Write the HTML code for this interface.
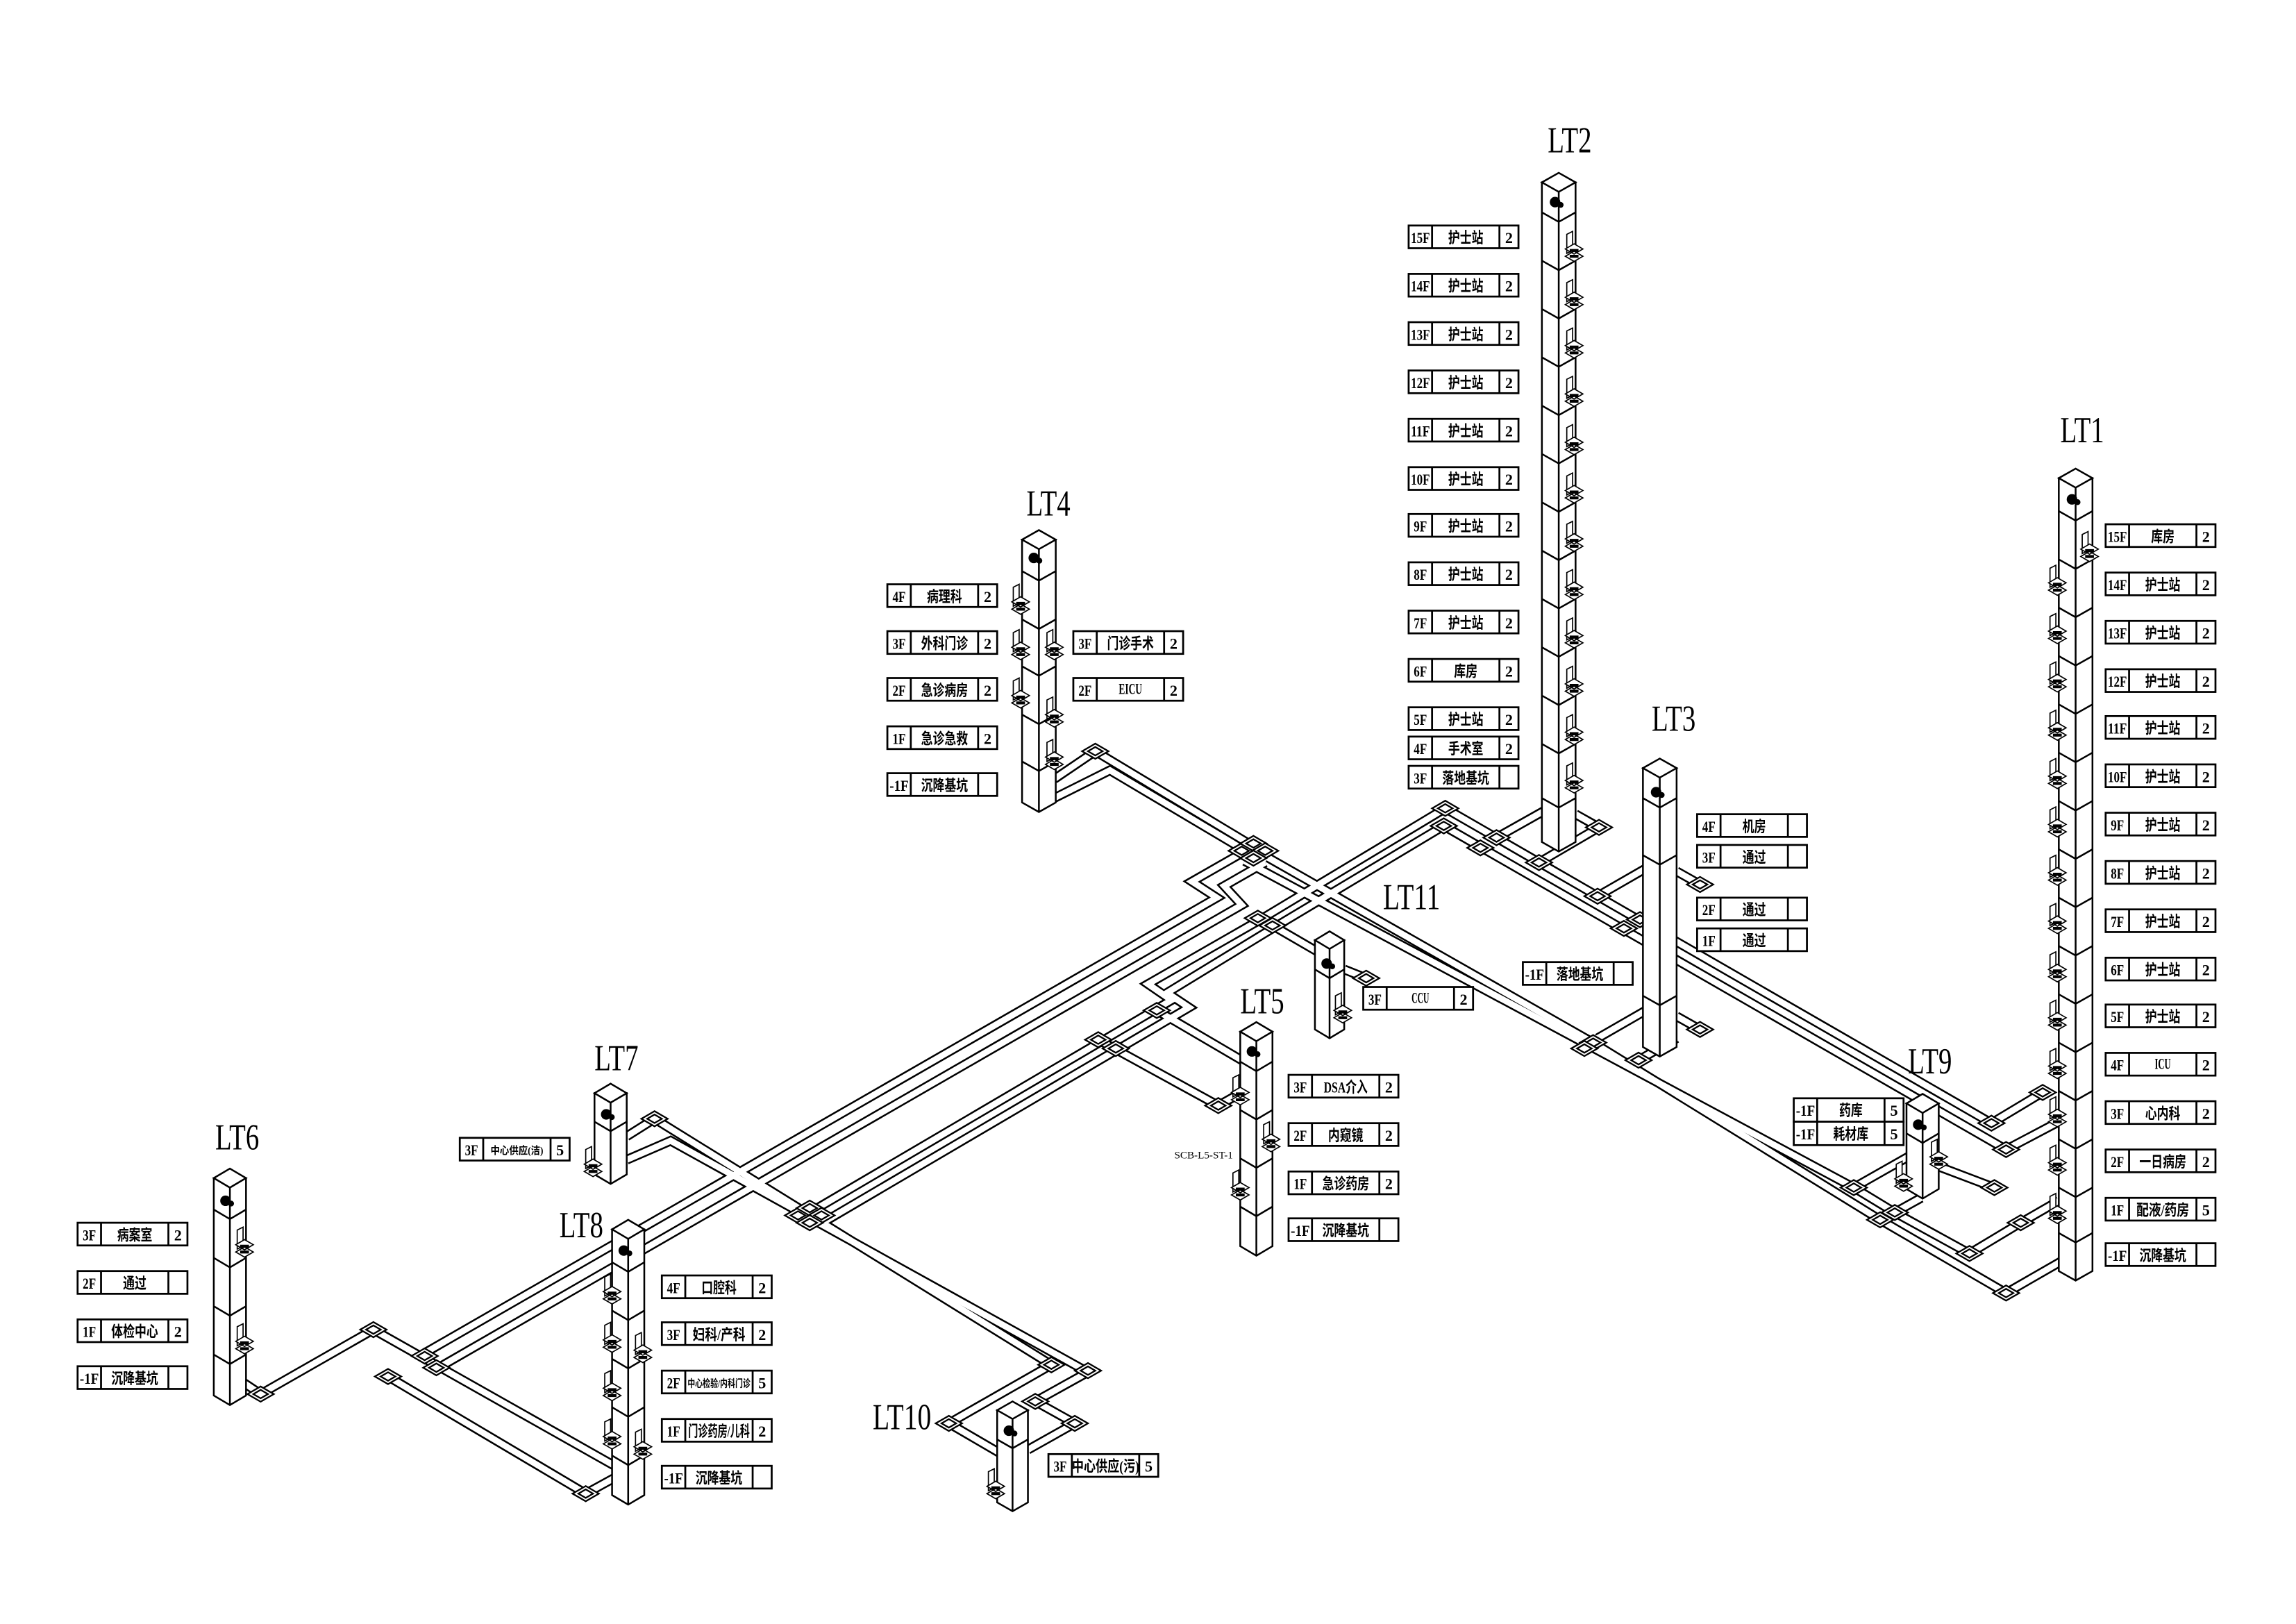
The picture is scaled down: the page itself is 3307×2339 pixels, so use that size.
<!DOCTYPE html>
<html><head><meta charset="utf-8">
<style>
html,body{margin:0;padding:0;background:#fff;}
svg{display:block;}
text{font-family:"Liberation Serif","Noto Sans CJK SC",serif;text-anchor:middle;fill:#000;}
.b rect{fill:#fff;stroke:#000;stroke-width:1.3;}
.b path{stroke:#000;stroke-width:1.3;fill:none;}
.b text{font-size:10.5px;font-weight:bold;}
.lt{font-size:25px;}
.col{fill:#fff;stroke:#000;stroke-width:1.2;}
.cl{fill:none;stroke:#000;stroke-width:1.2;}
.cap{fill:#fff;stroke:#000;stroke-width:1.2;}
</style></head><body>
<svg width="3307" height="2339" viewBox="0 0 1568 1109" xmlns="http://www.w3.org/2000/svg">
<defs>
<g id="trays">
<path d="M720,532 L748,513 L856,578"/>
<path d="M718,546 L758,526 L864,589"/>
<path d="M290,924 L831,613 L814,602 L856,578"/>
<path d="M296,936 L848,618 L836,605 L864,589"/>
<path d="M548,831 L800,683 L784,672 L859,629 L987,552"/>
<path d="M560,836 L812,688 L797,678 L869,634 L986,564"/>
<path d="M856,580 L1088,712 L1284,833 L1370,883 L1410,860"/>
<path d="M850,588 L1266,811 L1294,828 L1345,856 L1380,835 L1406,820"/>
<path d="M987,552 L1360,767 L1395,746"/>
<path d="M986,564 L1370,785 L1406,766"/>
<path d="M1022,572 L1054,554"/>
<path d="M1051,589 L1092,565 L1076,556"/>
<path d="M1091,612 L1124,593"/>
<path d="M1161,604 L1145,595"/>
<path d="M1091,709 L1124,690"/>
<path d="M1161,703 L1145,694"/>
<path d="M1119,724 L1145,709"/>
<path d="M1266,811 L1303,790"/>
<path d="M1294,828 L1312,818"/>
<path d="M1325,797 L1362,811"/>
<path d="M166,944 L178,952 L255,908 L425,1004"/>
<path d="M265,940 L400,1020 L420,1009"/>
<path d="M428,776 L447,764 L718,932 L648,972 L684,993"/>
<path d="M428,792 L458,779 L743,937 L707,957 L734,972 L702,990"/>
<path d="M750,710 L832,755 L848,746"/>
<path d="M790,690 L848,724"/>
<path d="M869,632 L900,650"/>
<path d="M918,662 L933,668"/>
</g>
<g id="d"><polygon points="-9,0 0,-5.2 9,0 0,5.2" fill="#fff" stroke="#000" stroke-width="1.1"/><polygon points="-5,0 0,-2.9 5,0 0,2.9" fill="none" stroke="#000" stroke-width="1.1"/></g>
<g id="h" fill="none" stroke="#000" stroke-width="0.8"><path d="M0,-10 V3 L4,1 V-12 Z" fill="#fff"/><path d="M-1,0 l6,-3.5 l6,3.5 l-6,3.5z M-1,5 l6,-3.5 l6,3.5 l-6,3.5z" fill="#fff"/><path d="M2,1 h6 M2,5 h6" stroke-width="2"/></g>
<g id="cam"><circle cx="0" cy="0" r="3.6" fill="#000"/><circle cx="3.8" cy="1.9" r="2" fill="#000"/></g>
</defs>
<rect width="1568" height="1109" fill="#fff"/>
<use href="#trays" fill="none" stroke="#000" stroke-width="6.6" stroke-linejoin="miter"/>
<use href="#trays" fill="none" stroke="#fff" stroke-width="4.2" stroke-linejoin="miter"/>
<g>
<use href="#d" x="748" y="513"/><use href="#d" x="848" y="581"/><use href="#d" x="856" y="576"/><use href="#d" x="864" y="581"/><use href="#d" x="856" y="586"/>
<use href="#d" x="545" y="830"/><use href="#d" x="553" y="825"/><use href="#d" x="561" y="830"/><use href="#d" x="553" y="835"/>
<use href="#d" x="859" y="627"/><use href="#d" x="869" y="632"/><use href="#d" x="987" y="552"/><use href="#d" x="986" y="564"/>
<use href="#d" x="1022" y="572"/><use href="#d" x="1011" y="579"/><use href="#d" x="1051" y="589"/><use href="#d" x="1092" y="565"/>
<use href="#d" x="1091" y="612"/><use href="#d" x="1120" y="628"/><use href="#d" x="1109" y="634"/><use href="#d" x="1161" y="604"/>
<use href="#d" x="1088" y="712"/><use href="#d" x="1082" y="716"/><use href="#d" x="1161" y="703"/><use href="#d" x="1119" y="724"/>
<use href="#d" x="1266" y="811"/><use href="#d" x="1294" y="828"/><use href="#d" x="1284" y="833"/><use href="#d" x="1360" y="767"/><use href="#d" x="1370" y="785"/>
<use href="#d" x="1395" y="746"/><use href="#d" x="1362" y="811"/><use href="#d" x="1345" y="856"/><use href="#d" x="1380" y="835"/><use href="#d" x="1370" y="883"/>
<use href="#d" x="178" y="952"/><use href="#d" x="255" y="908"/><use href="#d" x="265" y="940"/><use href="#d" x="290" y="926"/><use href="#d" x="298" y="934"/>
<use href="#d" x="400" y="1020"/><use href="#d" x="447" y="764"/><use href="#d" x="718" y="932"/><use href="#d" x="743" y="936"/>
<use href="#d" x="648" y="972"/><use href="#d" x="707" y="957"/><use href="#d" x="734" y="972"/><use href="#d" x="750" y="710"/><use href="#d" x="762" y="716"/>
<use href="#d" x="832" y="755"/><use href="#d" x="790" y="690"/><use href="#d" x="933" y="668"/>
</g>
<g>
<path class="col" d="M1053,124.5 V575 L1064.5,581.5 L1076,575 V124.5 Z"/>
<path class="cap" d="M1053,124.5 L1064.5,118 L1076,124.5 L1064.5,131 Z"/>
<path class="cl" d="M1064.5,131 V581.5 M1053,145 l11.5,6.5 11.5,-6.5 M1053,178 l11.5,6.5 11.5,-6.5 M1053,211 l11.5,6.5 11.5,-6.5 M1053,244 l11.5,6.5 11.5,-6.5 M1053,277 l11.5,6.5 11.5,-6.5 M1053,310 l11.5,6.5 11.5,-6.5 M1053,343 l11.5,6.5 11.5,-6.5 M1053,376 l11.5,6.5 11.5,-6.5 M1053,409 l11.5,6.5 11.5,-6.5 M1053,442 l11.5,6.5 11.5,-6.5 M1053,475 l11.5,6.5 11.5,-6.5 M1053,508 l11.5,6.5 11.5,-6.5 M1053,545 l11.5,6.5 11.5,-6.5"/>
<use href="#cam" x="1062" y="138"/>
<use href="#h" x="1070" y="170"/><use href="#h" x="1070" y="203"/><use href="#h" x="1070" y="236"/><use href="#h" x="1070" y="269"/><use href="#h" x="1070" y="302"/><use href="#h" x="1070" y="335"/><use href="#h" x="1070" y="368"/><use href="#h" x="1070" y="401"/><use href="#h" x="1070" y="434"/><use href="#h" x="1070" y="467"/><use href="#h" x="1070" y="500"/><use href="#h" x="1070" y="533"/>
<path class="col" d="M1406,326.5 V868 L1417.5,874.5 L1429,868 V326.5 Z"/>
<path class="cap" d="M1406,326.5 L1417.5,320 L1429,326.5 L1417.5,333 Z"/>
<path class="cl" d="M1417.5,333 V874.5 M1406,349 l11.5,6.5 11.5,-6.5 M1406,382 l11.5,6.5 11.5,-6.5 M1406,415 l11.5,6.5 11.5,-6.5 M1406,448 l11.5,6.5 11.5,-6.5 M1406,481 l11.5,6.5 11.5,-6.5 M1406,514 l11.5,6.5 11.5,-6.5 M1406,547 l11.5,6.5 11.5,-6.5 M1406,580 l11.5,6.5 11.5,-6.5 M1406,613 l11.5,6.5 11.5,-6.5 M1406,646 l11.5,6.5 11.5,-6.5 M1406,679 l11.5,6.5 11.5,-6.5 M1406,712 l11.5,6.5 11.5,-6.5 M1406,745 l11.5,6.5 11.5,-6.5 M1406,778 l11.5,6.5 11.5,-6.5 M1406,811 l11.5,6.5 11.5,-6.5 M1406,842 l11.5,6.5 11.5,-6.5"/>
<use href="#cam" x="1415" y="341"/>
<use href="#h" x="1400" y="398"/><use href="#h" x="1400" y="431"/><use href="#h" x="1400" y="464"/><use href="#h" x="1400" y="497"/><use href="#h" x="1400" y="530"/><use href="#h" x="1400" y="563"/><use href="#h" x="1400" y="596"/><use href="#h" x="1400" y="629"/><use href="#h" x="1400" y="662"/><use href="#h" x="1400" y="695"/><use href="#h" x="1400" y="728"/><use href="#h" x="1400" y="761"/><use href="#h" x="1400" y="794"/><use href="#h" x="1400" y="827"/><use href="#h" x="1422" y="375"/>
<path class="col" d="M698,368.5 V548 L709.5,554.5 L721,548 V368.5 Z"/>
<path class="cap" d="M698,368.5 L709.5,362 L721,368.5 L709.5,375 Z"/>
<path class="cl" d="M709.5,375 V554.5 M698,390 l11.5,6.5 11.5,-6.5 M698,423 l11.5,6.5 11.5,-6.5 M698,455 l11.5,6.5 11.5,-6.5 M698,488 l11.5,6.5 11.5,-6.5 M698,520 l11.5,6.5 11.5,-6.5"/>
<use href="#cam" x="706" y="381"/>
<use href="#h" x="692" y="411"/><use href="#h" x="692" y="442"/><use href="#h" x="692" y="475"/><use href="#h" x="715" y="442"/><use href="#h" x="715" y="488"/><use href="#h" x="715" y="517"/>
<path class="col" d="M1122,524.5 V715 L1133.5,721.5 L1145,715 V524.5 Z"/>
<path class="cap" d="M1122,524.5 L1133.5,518 L1145,524.5 L1133.5,531 Z"/>
<path class="cl" d="M1133.5,531 V721.5 M1122,545 l11.5,6.5 11.5,-6.5 M1122,584 l11.5,6.5 11.5,-6.5 M1122,680 l11.5,6.5 11.5,-6.5"/>
<use href="#cam" x="1131" y="541"/>
<path class="col" d="M898,642 V703 L908,709 L918,703 V642 Z"/>
<path class="cap" d="M898,642 L908,636 L918,642 L908,648 Z"/>
<path class="cl" d="M908,648 V709 M898,662 l10,6 10,-6"/>
<use href="#cam" x="906" y="658"/><use href="#h" x="912" y="690"/>
<path class="col" d="M847,704.5 V851 L858,857.5 L869,851 V704.5 Z"/>
<path class="cap" d="M847,704.5 L858,698 L869,704.5 L858,711 Z"/>
<path class="cl" d="M858,711 V857.5 M847,725 l11,6.5 11,-6.5 M847,758 l11,6.5 11,-6.5 M847,791 l11,6.5 11,-6.5 M847,824 l11,6.5 11,-6.5"/>
<use href="#cam" x="855" y="718"/>
<use href="#h" x="842" y="746"/><use href="#h" x="863" y="778"/><use href="#h" x="842" y="811"/>
<path class="col" d="M406,746.5 V802 L417,808.5 L428,802 V746.5 Z"/>
<path class="cap" d="M406,746.5 L417,740 L428,746.5 L417,753 Z"/>
<path class="cl" d="M417,753 V808.5 M406,766 l11,6.5 11,-6.5"/>
<use href="#cam" x="414" y="761"/><use href="#h" x="400" y="795"/>
<path class="col" d="M146,804.5 V953 L157,959.5 L168,953 V804.5 Z"/>
<path class="cap" d="M146,804.5 L157,798 L168,804.5 L157,811 Z"/>
<path class="cl" d="M157,811 V959.5 M146,826 l11,6.5 11,-6.5 M146,859 l11,6.5 11,-6.5 M146,892 l11,6.5 11,-6.5 M146,925 l11,6.5 11,-6.5"/>
<use href="#cam" x="154" y="820"/><use href="#h" x="162" y="850"/><use href="#h" x="162" y="916"/>
<path class="col" d="M418,839.5 V1021 L429,1027.5 L440,1021 V839.5 Z"/>
<path class="cap" d="M418,839.5 L429,833 L440,839.5 L429,846 Z"/>
<path class="cl" d="M429,846 V1027.5 M418,862 l11,6.5 11,-6.5 M418,895 l11,6.5 11,-6.5 M418,928 l11,6.5 11,-6.5 M418,961 l11,6.5 11,-6.5 M418,994 l11,6.5 11,-6.5"/>
<use href="#cam" x="426" y="854"/>
<use href="#h" x="413" y="882"/><use href="#h" x="413" y="915"/><use href="#h" x="413" y="948"/><use href="#h" x="413" y="981"/><use href="#h" x="434" y="922"/><use href="#h" x="434" y="988"/>
<path class="col" d="M1302,753.5 V812 L1313,818.5 L1324,812 V753.5 Z"/>
<path class="cap" d="M1302,753.5 L1313,747 L1324,753.5 L1313,760 Z"/>
<path class="cl" d="M1313,760 V818.5 M1302,774 l11,6.5 11,-6.5"/>
<use href="#cam" x="1310" y="768"/><use href="#h" x="1319" y="790"/><use href="#h" x="1295" y="805"/>
<path class="col" d="M681,963 V1026 L691.5,1032 L702,1026 V963 Z"/>
<path class="cap" d="M681,963 L691.5,957 L702,963 L691.5,969 Z"/>
<path class="cl" d="M691.5,969 V1032 M681,983 l10.5,6 10.5,-6"/>
<use href="#cam" x="689" y="977"/><use href="#h" x="675" y="1015"/>
</g>
<g>
<text class="lt" x="1072" y="104" textLength="30" lengthAdjust="spacingAndGlyphs">LT2</text>
<text class="lt" x="1422" y="302" textLength="30" lengthAdjust="spacingAndGlyphs">LT1</text>
<text class="lt" x="716" y="352" textLength="30" lengthAdjust="spacingAndGlyphs">LT4</text>
<text class="lt" x="1143" y="499" textLength="30" lengthAdjust="spacingAndGlyphs">LT3</text>
<text class="lt" x="964" y="621" textLength="39" lengthAdjust="spacingAndGlyphs">LT11</text>
<text class="lt" x="862" y="692" textLength="30" lengthAdjust="spacingAndGlyphs">LT5</text>
<text class="lt" x="421" y="731" textLength="30" lengthAdjust="spacingAndGlyphs">LT7</text>
<text class="lt" x="162" y="785" textLength="30" lengthAdjust="spacingAndGlyphs">LT6</text>
<text class="lt" x="397" y="845" textLength="30" lengthAdjust="spacingAndGlyphs">LT8</text>
<text class="lt" x="1318" y="733" textLength="30" lengthAdjust="spacingAndGlyphs">LT9</text>
<text class="lt" x="616" y="976" textLength="40" lengthAdjust="spacingAndGlyphs">LT10</text>
<text x="822" y="791" style="font-size:7px" textLength="40" lengthAdjust="spacingAndGlyphs">SCB-L5-ST-1</text>
</g>
<g class="b">
<g transform="translate(962,154)"><rect width="75" height="15.5"/><path d="M16,0v15.5M62,0v15.5"/><text x="8" y="12" textLength="13" lengthAdjust="spacingAndGlyphs">15F</text><text x="39" y="12" textLength="24" lengthAdjust="spacingAndGlyphs">护士站</text><text x="68.5" y="12">2</text></g>
<g transform="translate(962,187)"><rect width="75" height="15.5"/><path d="M16,0v15.5M62,0v15.5"/><text x="8" y="12" textLength="13" lengthAdjust="spacingAndGlyphs">14F</text><text x="39" y="12" textLength="24" lengthAdjust="spacingAndGlyphs">护士站</text><text x="68.5" y="12">2</text></g>
<g transform="translate(962,220)"><rect width="75" height="15.5"/><path d="M16,0v15.5M62,0v15.5"/><text x="8" y="12" textLength="13" lengthAdjust="spacingAndGlyphs">13F</text><text x="39" y="12" textLength="24" lengthAdjust="spacingAndGlyphs">护士站</text><text x="68.5" y="12">2</text></g>
<g transform="translate(962,253)"><rect width="75" height="15.5"/><path d="M16,0v15.5M62,0v15.5"/><text x="8" y="12" textLength="13" lengthAdjust="spacingAndGlyphs">12F</text><text x="39" y="12" textLength="24" lengthAdjust="spacingAndGlyphs">护士站</text><text x="68.5" y="12">2</text></g>
<g transform="translate(962,286)"><rect width="75" height="15.5"/><path d="M16,0v15.5M62,0v15.5"/><text x="8" y="12" textLength="13" lengthAdjust="spacingAndGlyphs">11F</text><text x="39" y="12" textLength="24" lengthAdjust="spacingAndGlyphs">护士站</text><text x="68.5" y="12">2</text></g>
<g transform="translate(962,319)"><rect width="75" height="15.5"/><path d="M16,0v15.5M62,0v15.5"/><text x="8" y="12" textLength="13" lengthAdjust="spacingAndGlyphs">10F</text><text x="39" y="12" textLength="24" lengthAdjust="spacingAndGlyphs">护士站</text><text x="68.5" y="12">2</text></g>
<g transform="translate(962,351)"><rect width="75" height="15.5"/><path d="M16,0v15.5M62,0v15.5"/><text x="8" y="12" textLength="9" lengthAdjust="spacingAndGlyphs">9F</text><text x="39" y="12" textLength="24" lengthAdjust="spacingAndGlyphs">护士站</text><text x="68.5" y="12">2</text></g>
<g transform="translate(962,384)"><rect width="75" height="15.5"/><path d="M16,0v15.5M62,0v15.5"/><text x="8" y="12" textLength="9" lengthAdjust="spacingAndGlyphs">8F</text><text x="39" y="12" textLength="24" lengthAdjust="spacingAndGlyphs">护士站</text><text x="68.5" y="12">2</text></g>
<g transform="translate(962,417)"><rect width="75" height="15.5"/><path d="M16,0v15.5M62,0v15.5"/><text x="8" y="12" textLength="9" lengthAdjust="spacingAndGlyphs">7F</text><text x="39" y="12" textLength="24" lengthAdjust="spacingAndGlyphs">护士站</text><text x="68.5" y="12">2</text></g>
<g transform="translate(962,450)"><rect width="75" height="15.5"/><path d="M16,0v15.5M62,0v15.5"/><text x="8" y="12" textLength="9" lengthAdjust="spacingAndGlyphs">6F</text><text x="39" y="12" textLength="16" lengthAdjust="spacingAndGlyphs">库房</text><text x="68.5" y="12">2</text></g>
<g transform="translate(962,483)"><rect width="75" height="15.5"/><path d="M16,0v15.5M62,0v15.5"/><text x="8" y="12" textLength="9" lengthAdjust="spacingAndGlyphs">5F</text><text x="39" y="12" textLength="24" lengthAdjust="spacingAndGlyphs">护士站</text><text x="68.5" y="12">2</text></g>
<g transform="translate(962,503)"><rect width="75" height="15.5"/><path d="M16,0v15.5M62,0v15.5"/><text x="8" y="12" textLength="9" lengthAdjust="spacingAndGlyphs">4F</text><text x="39" y="12" textLength="24" lengthAdjust="spacingAndGlyphs">手术室</text><text x="68.5" y="12">2</text></g>
<g transform="translate(962,523)"><rect width="75" height="15.5"/><path d="M16,0v15.5M62,0v15.5"/><text x="8" y="12" textLength="9" lengthAdjust="spacingAndGlyphs">3F</text><text x="39" y="12" textLength="32" lengthAdjust="spacingAndGlyphs">落地基坑</text></g>
<g transform="translate(1438,358)"><rect width="75" height="15.5"/><path d="M16,0v15.5M62,0v15.5"/><text x="8" y="12" textLength="13" lengthAdjust="spacingAndGlyphs">15F</text><text x="39" y="12" textLength="16" lengthAdjust="spacingAndGlyphs">库房</text><text x="68.5" y="12">2</text></g>
<g transform="translate(1438,391)"><rect width="75" height="15.5"/><path d="M16,0v15.5M62,0v15.5"/><text x="8" y="12" textLength="13" lengthAdjust="spacingAndGlyphs">14F</text><text x="39" y="12" textLength="24" lengthAdjust="spacingAndGlyphs">护士站</text><text x="68.5" y="12">2</text></g>
<g transform="translate(1438,424)"><rect width="75" height="15.5"/><path d="M16,0v15.5M62,0v15.5"/><text x="8" y="12" textLength="13" lengthAdjust="spacingAndGlyphs">13F</text><text x="39" y="12" textLength="24" lengthAdjust="spacingAndGlyphs">护士站</text><text x="68.5" y="12">2</text></g>
<g transform="translate(1438,457)"><rect width="75" height="15.5"/><path d="M16,0v15.5M62,0v15.5"/><text x="8" y="12" textLength="13" lengthAdjust="spacingAndGlyphs">12F</text><text x="39" y="12" textLength="24" lengthAdjust="spacingAndGlyphs">护士站</text><text x="68.5" y="12">2</text></g>
<g transform="translate(1438,489)"><rect width="75" height="15.5"/><path d="M16,0v15.5M62,0v15.5"/><text x="8" y="12" textLength="13" lengthAdjust="spacingAndGlyphs">11F</text><text x="39" y="12" textLength="24" lengthAdjust="spacingAndGlyphs">护士站</text><text x="68.5" y="12">2</text></g>
<g transform="translate(1438,522)"><rect width="75" height="15.5"/><path d="M16,0v15.5M62,0v15.5"/><text x="8" y="12" textLength="13" lengthAdjust="spacingAndGlyphs">10F</text><text x="39" y="12" textLength="24" lengthAdjust="spacingAndGlyphs">护士站</text><text x="68.5" y="12">2</text></g>
<g transform="translate(1438,555)"><rect width="75" height="15.5"/><path d="M16,0v15.5M62,0v15.5"/><text x="8" y="12" textLength="9" lengthAdjust="spacingAndGlyphs">9F</text><text x="39" y="12" textLength="24" lengthAdjust="spacingAndGlyphs">护士站</text><text x="68.5" y="12">2</text></g>
<g transform="translate(1438,588)"><rect width="75" height="15.5"/><path d="M16,0v15.5M62,0v15.5"/><text x="8" y="12" textLength="9" lengthAdjust="spacingAndGlyphs">8F</text><text x="39" y="12" textLength="24" lengthAdjust="spacingAndGlyphs">护士站</text><text x="68.5" y="12">2</text></g>
<g transform="translate(1438,621)"><rect width="75" height="15.5"/><path d="M16,0v15.5M62,0v15.5"/><text x="8" y="12" textLength="9" lengthAdjust="spacingAndGlyphs">7F</text><text x="39" y="12" textLength="24" lengthAdjust="spacingAndGlyphs">护士站</text><text x="68.5" y="12">2</text></g>
<g transform="translate(1438,654)"><rect width="75" height="15.5"/><path d="M16,0v15.5M62,0v15.5"/><text x="8" y="12" textLength="9" lengthAdjust="spacingAndGlyphs">6F</text><text x="39" y="12" textLength="24" lengthAdjust="spacingAndGlyphs">护士站</text><text x="68.5" y="12">2</text></g>
<g transform="translate(1438,686)"><rect width="75" height="15.5"/><path d="M16,0v15.5M62,0v15.5"/><text x="8" y="12" textLength="9" lengthAdjust="spacingAndGlyphs">5F</text><text x="39" y="12" textLength="24" lengthAdjust="spacingAndGlyphs">护士站</text><text x="68.5" y="12">2</text></g>
<g transform="translate(1438,719)"><rect width="75" height="15.5"/><path d="M16,0v15.5M62,0v15.5"/><text x="8" y="12" textLength="9" lengthAdjust="spacingAndGlyphs">4F</text><text x="39" y="11" textLength="11" lengthAdjust="spacingAndGlyphs">ICU</text><text x="68.5" y="12">2</text></g>
<g transform="translate(1438,752)"><rect width="75" height="15.5"/><path d="M16,0v15.5M62,0v15.5"/><text x="8" y="12" textLength="9" lengthAdjust="spacingAndGlyphs">3F</text><text x="39" y="12" textLength="24" lengthAdjust="spacingAndGlyphs">心内科</text><text x="68.5" y="12">2</text></g>
<g transform="translate(1438,785)"><rect width="75" height="15.5"/><path d="M16,0v15.5M62,0v15.5"/><text x="8" y="12" textLength="9" lengthAdjust="spacingAndGlyphs">2F</text><text x="39" y="12" textLength="32" lengthAdjust="spacingAndGlyphs">一日病房</text><text x="68.5" y="12">2</text></g>
<g transform="translate(1438,818)"><rect width="75" height="15.5"/><path d="M16,0v15.5M62,0v15.5"/><text x="8" y="12" textLength="9" lengthAdjust="spacingAndGlyphs">1F</text><text x="39" y="12" textLength="36" lengthAdjust="spacingAndGlyphs">配液/药房</text><text x="68.5" y="12">5</text></g>
<g transform="translate(1438,849)"><rect width="75" height="15.5"/><path d="M16,0v15.5M62,0v15.5"/><text x="8" y="12" textLength="13" lengthAdjust="spacingAndGlyphs">-1F</text><text x="39" y="12" textLength="32" lengthAdjust="spacingAndGlyphs">沉降基坑</text></g>
<g transform="translate(606,399)"><rect width="75" height="15.5"/><path d="M16,0v15.5M62,0v15.5"/><text x="8" y="12" textLength="9" lengthAdjust="spacingAndGlyphs">4F</text><text x="39" y="12" textLength="24" lengthAdjust="spacingAndGlyphs">病理科</text><text x="68.5" y="12">2</text></g>
<g transform="translate(606,431)"><rect width="75" height="15.5"/><path d="M16,0v15.5M62,0v15.5"/><text x="8" y="12" textLength="9" lengthAdjust="spacingAndGlyphs">3F</text><text x="39" y="12" textLength="32" lengthAdjust="spacingAndGlyphs">外科门诊</text><text x="68.5" y="12">2</text></g>
<g transform="translate(606,463)"><rect width="75" height="15.5"/><path d="M16,0v15.5M62,0v15.5"/><text x="8" y="12" textLength="9" lengthAdjust="spacingAndGlyphs">2F</text><text x="39" y="12" textLength="32" lengthAdjust="spacingAndGlyphs">急诊病房</text><text x="68.5" y="12">2</text></g>
<g transform="translate(606,496)"><rect width="75" height="15.5"/><path d="M16,0v15.5M62,0v15.5"/><text x="8" y="12" textLength="9" lengthAdjust="spacingAndGlyphs">1F</text><text x="39" y="12" textLength="32" lengthAdjust="spacingAndGlyphs">急诊急救</text><text x="68.5" y="12">2</text></g>
<g transform="translate(606,528)"><rect width="75" height="15.5"/><path d="M16,0v15.5M62,0v15.5"/><text x="8" y="12" textLength="13" lengthAdjust="spacingAndGlyphs">-1F</text><text x="39" y="12" textLength="32" lengthAdjust="spacingAndGlyphs">沉降基坑</text></g>
<g transform="translate(733,431)"><rect width="75" height="15.5"/><path d="M16,0v15.5M62,0v15.5"/><text x="8" y="12" textLength="9" lengthAdjust="spacingAndGlyphs">3F</text><text x="39" y="12" textLength="32" lengthAdjust="spacingAndGlyphs">门诊手术</text><text x="68.5" y="12">2</text></g>
<g transform="translate(733,463)"><rect width="75" height="15.5"/><path d="M16,0v15.5M62,0v15.5"/><text x="8" y="12" textLength="9" lengthAdjust="spacingAndGlyphs">2F</text><text x="39" y="11" textLength="16" lengthAdjust="spacingAndGlyphs">EICU</text><text x="68.5" y="12">2</text></g>
<g transform="translate(1159,556)"><rect width="75" height="15.5"/><path d="M16,0v15.5M62,0v15.5"/><text x="8" y="12" textLength="9" lengthAdjust="spacingAndGlyphs">4F</text><text x="39" y="12" textLength="16" lengthAdjust="spacingAndGlyphs">机房</text></g>
<g transform="translate(1159,577)"><rect width="75" height="15.5"/><path d="M16,0v15.5M62,0v15.5"/><text x="8" y="12" textLength="9" lengthAdjust="spacingAndGlyphs">3F</text><text x="39" y="12" textLength="16" lengthAdjust="spacingAndGlyphs">通过</text></g>
<g transform="translate(1159,613)"><rect width="75" height="15.5"/><path d="M16,0v15.5M62,0v15.5"/><text x="8" y="12" textLength="9" lengthAdjust="spacingAndGlyphs">2F</text><text x="39" y="12" textLength="16" lengthAdjust="spacingAndGlyphs">通过</text></g>
<g transform="translate(1159,634)"><rect width="75" height="15.5"/><path d="M16,0v15.5M62,0v15.5"/><text x="8" y="12" textLength="9" lengthAdjust="spacingAndGlyphs">1F</text><text x="39" y="12" textLength="16" lengthAdjust="spacingAndGlyphs">通过</text></g>
<g transform="translate(1040,657)"><rect width="75" height="15.5"/><path d="M16,0v15.5M62,0v15.5"/><text x="8" y="12" textLength="13" lengthAdjust="spacingAndGlyphs">-1F</text><text x="39" y="12" textLength="32" lengthAdjust="spacingAndGlyphs">落地基坑</text></g>
<g transform="translate(931,674)"><rect width="75" height="15.5"/><path d="M16,0v15.5M62,0v15.5"/><text x="8" y="12" textLength="9" lengthAdjust="spacingAndGlyphs">3F</text><text x="39" y="11" textLength="12" lengthAdjust="spacingAndGlyphs">CCU</text><text x="68.5" y="12">2</text></g>
<g transform="translate(880,734)"><rect width="75" height="15.5"/><path d="M16,0v15.5M62,0v15.5"/><text x="8" y="12" textLength="9" lengthAdjust="spacingAndGlyphs">3F</text><text x="39" y="12" textLength="30" lengthAdjust="spacingAndGlyphs">DSA介入</text><text x="68.5" y="12">2</text></g>
<g transform="translate(880,767)"><rect width="75" height="15.5"/><path d="M16,0v15.5M62,0v15.5"/><text x="8" y="12" textLength="9" lengthAdjust="spacingAndGlyphs">2F</text><text x="39" y="12" textLength="24" lengthAdjust="spacingAndGlyphs">内窥镜</text><text x="68.5" y="12">2</text></g>
<g transform="translate(880,800)"><rect width="75" height="15.5"/><path d="M16,0v15.5M62,0v15.5"/><text x="8" y="12" textLength="9" lengthAdjust="spacingAndGlyphs">1F</text><text x="39" y="12" textLength="32" lengthAdjust="spacingAndGlyphs">急诊药房</text><text x="68.5" y="12">2</text></g>
<g transform="translate(880,832)"><rect width="75" height="15.5"/><path d="M16,0v15.5M62,0v15.5"/><text x="8" y="12" textLength="13" lengthAdjust="spacingAndGlyphs">-1F</text><text x="39" y="12" textLength="32" lengthAdjust="spacingAndGlyphs">沉降基坑</text></g>
<g transform="translate(314,777)"><rect width="75" height="15.5"/><path d="M16,0v15.5M62,0v15.5"/><text x="8" y="12" textLength="9" lengthAdjust="spacingAndGlyphs">3F</text><text x="39" y="11" style="font-size:7px" textLength="36" lengthAdjust="spacingAndGlyphs">中心供应(洁)</text><text x="68.5" y="12">5</text></g>
<g transform="translate(53,835)"><rect width="75" height="15.5"/><path d="M16,0v15.5M62,0v15.5"/><text x="8" y="12" textLength="9" lengthAdjust="spacingAndGlyphs">3F</text><text x="39" y="12" textLength="24" lengthAdjust="spacingAndGlyphs">病案室</text><text x="68.5" y="12">2</text></g>
<g transform="translate(53,868)"><rect width="75" height="15.5"/><path d="M16,0v15.5M62,0v15.5"/><text x="8" y="12" textLength="9" lengthAdjust="spacingAndGlyphs">2F</text><text x="39" y="12" textLength="16" lengthAdjust="spacingAndGlyphs">通过</text></g>
<g transform="translate(53,901)"><rect width="75" height="15.5"/><path d="M16,0v15.5M62,0v15.5"/><text x="8" y="12" textLength="9" lengthAdjust="spacingAndGlyphs">1F</text><text x="39" y="12" textLength="32" lengthAdjust="spacingAndGlyphs">体检中心</text><text x="68.5" y="12">2</text></g>
<g transform="translate(53,933)"><rect width="75" height="15.5"/><path d="M16,0v15.5M62,0v15.5"/><text x="8" y="12" textLength="13" lengthAdjust="spacingAndGlyphs">-1F</text><text x="39" y="12" textLength="32" lengthAdjust="spacingAndGlyphs">沉降基坑</text></g>
<g transform="translate(452,871)"><rect width="75" height="15.5"/><path d="M16,0v15.5M62,0v15.5"/><text x="8" y="12" textLength="9" lengthAdjust="spacingAndGlyphs">4F</text><text x="39" y="12" textLength="24" lengthAdjust="spacingAndGlyphs">口腔科</text><text x="68.5" y="12">2</text></g>
<g transform="translate(452,903)"><rect width="75" height="15.5"/><path d="M16,0v15.5M62,0v15.5"/><text x="8" y="12" textLength="9" lengthAdjust="spacingAndGlyphs">3F</text><text x="39" y="12" textLength="36" lengthAdjust="spacingAndGlyphs">妇科/产科</text><text x="68.5" y="12">2</text></g>
<g transform="translate(452,936)"><rect width="75" height="15.5"/><path d="M16,0v15.5M62,0v15.5"/><text x="8" y="12" textLength="9" lengthAdjust="spacingAndGlyphs">2F</text><text x="39" y="11" style="font-size:7px" textLength="43" lengthAdjust="spacingAndGlyphs">中心检验/内科门诊</text><text x="68.5" y="12">5</text></g>
<g transform="translate(452,969)"><rect width="75" height="15.5"/><path d="M16,0v15.5M62,0v15.5"/><text x="8" y="12" textLength="9" lengthAdjust="spacingAndGlyphs">1F</text><text x="39" y="12" textLength="42" lengthAdjust="spacingAndGlyphs">门诊药房/儿科</text><text x="68.5" y="12">2</text></g>
<g transform="translate(452,1001)"><rect width="75" height="15.5"/><path d="M16,0v15.5M62,0v15.5"/><text x="8" y="12" textLength="13" lengthAdjust="spacingAndGlyphs">-1F</text><text x="39" y="12" textLength="32" lengthAdjust="spacingAndGlyphs">沉降基坑</text></g>
<g transform="translate(1225,750)"><rect width="75" height="16"/><path d="M16,0v16M62,0v16"/><text x="8" y="12" textLength="13" lengthAdjust="spacingAndGlyphs">-1F</text><text x="39" y="12" textLength="16" lengthAdjust="spacingAndGlyphs">药库</text><text x="68.5" y="12">5</text></g>
<g transform="translate(1225,766)"><rect width="75" height="16"/><path d="M16,0v16M62,0v16"/><text x="8" y="12" textLength="13" lengthAdjust="spacingAndGlyphs">-1F</text><text x="39" y="12" textLength="24" lengthAdjust="spacingAndGlyphs">耗材库</text><text x="68.5" y="12">5</text></g>
<g transform="translate(716,993)"><rect width="75" height="15.5"/><path d="M16,0v15.5M62,0v15.5"/><text x="8" y="12" textLength="9" lengthAdjust="spacingAndGlyphs">3F</text><text x="39" y="12" textLength="46" lengthAdjust="spacingAndGlyphs">中心供应(污)</text><text x="68.5" y="12">5</text></g>
</g>
</svg>
</body></html>
